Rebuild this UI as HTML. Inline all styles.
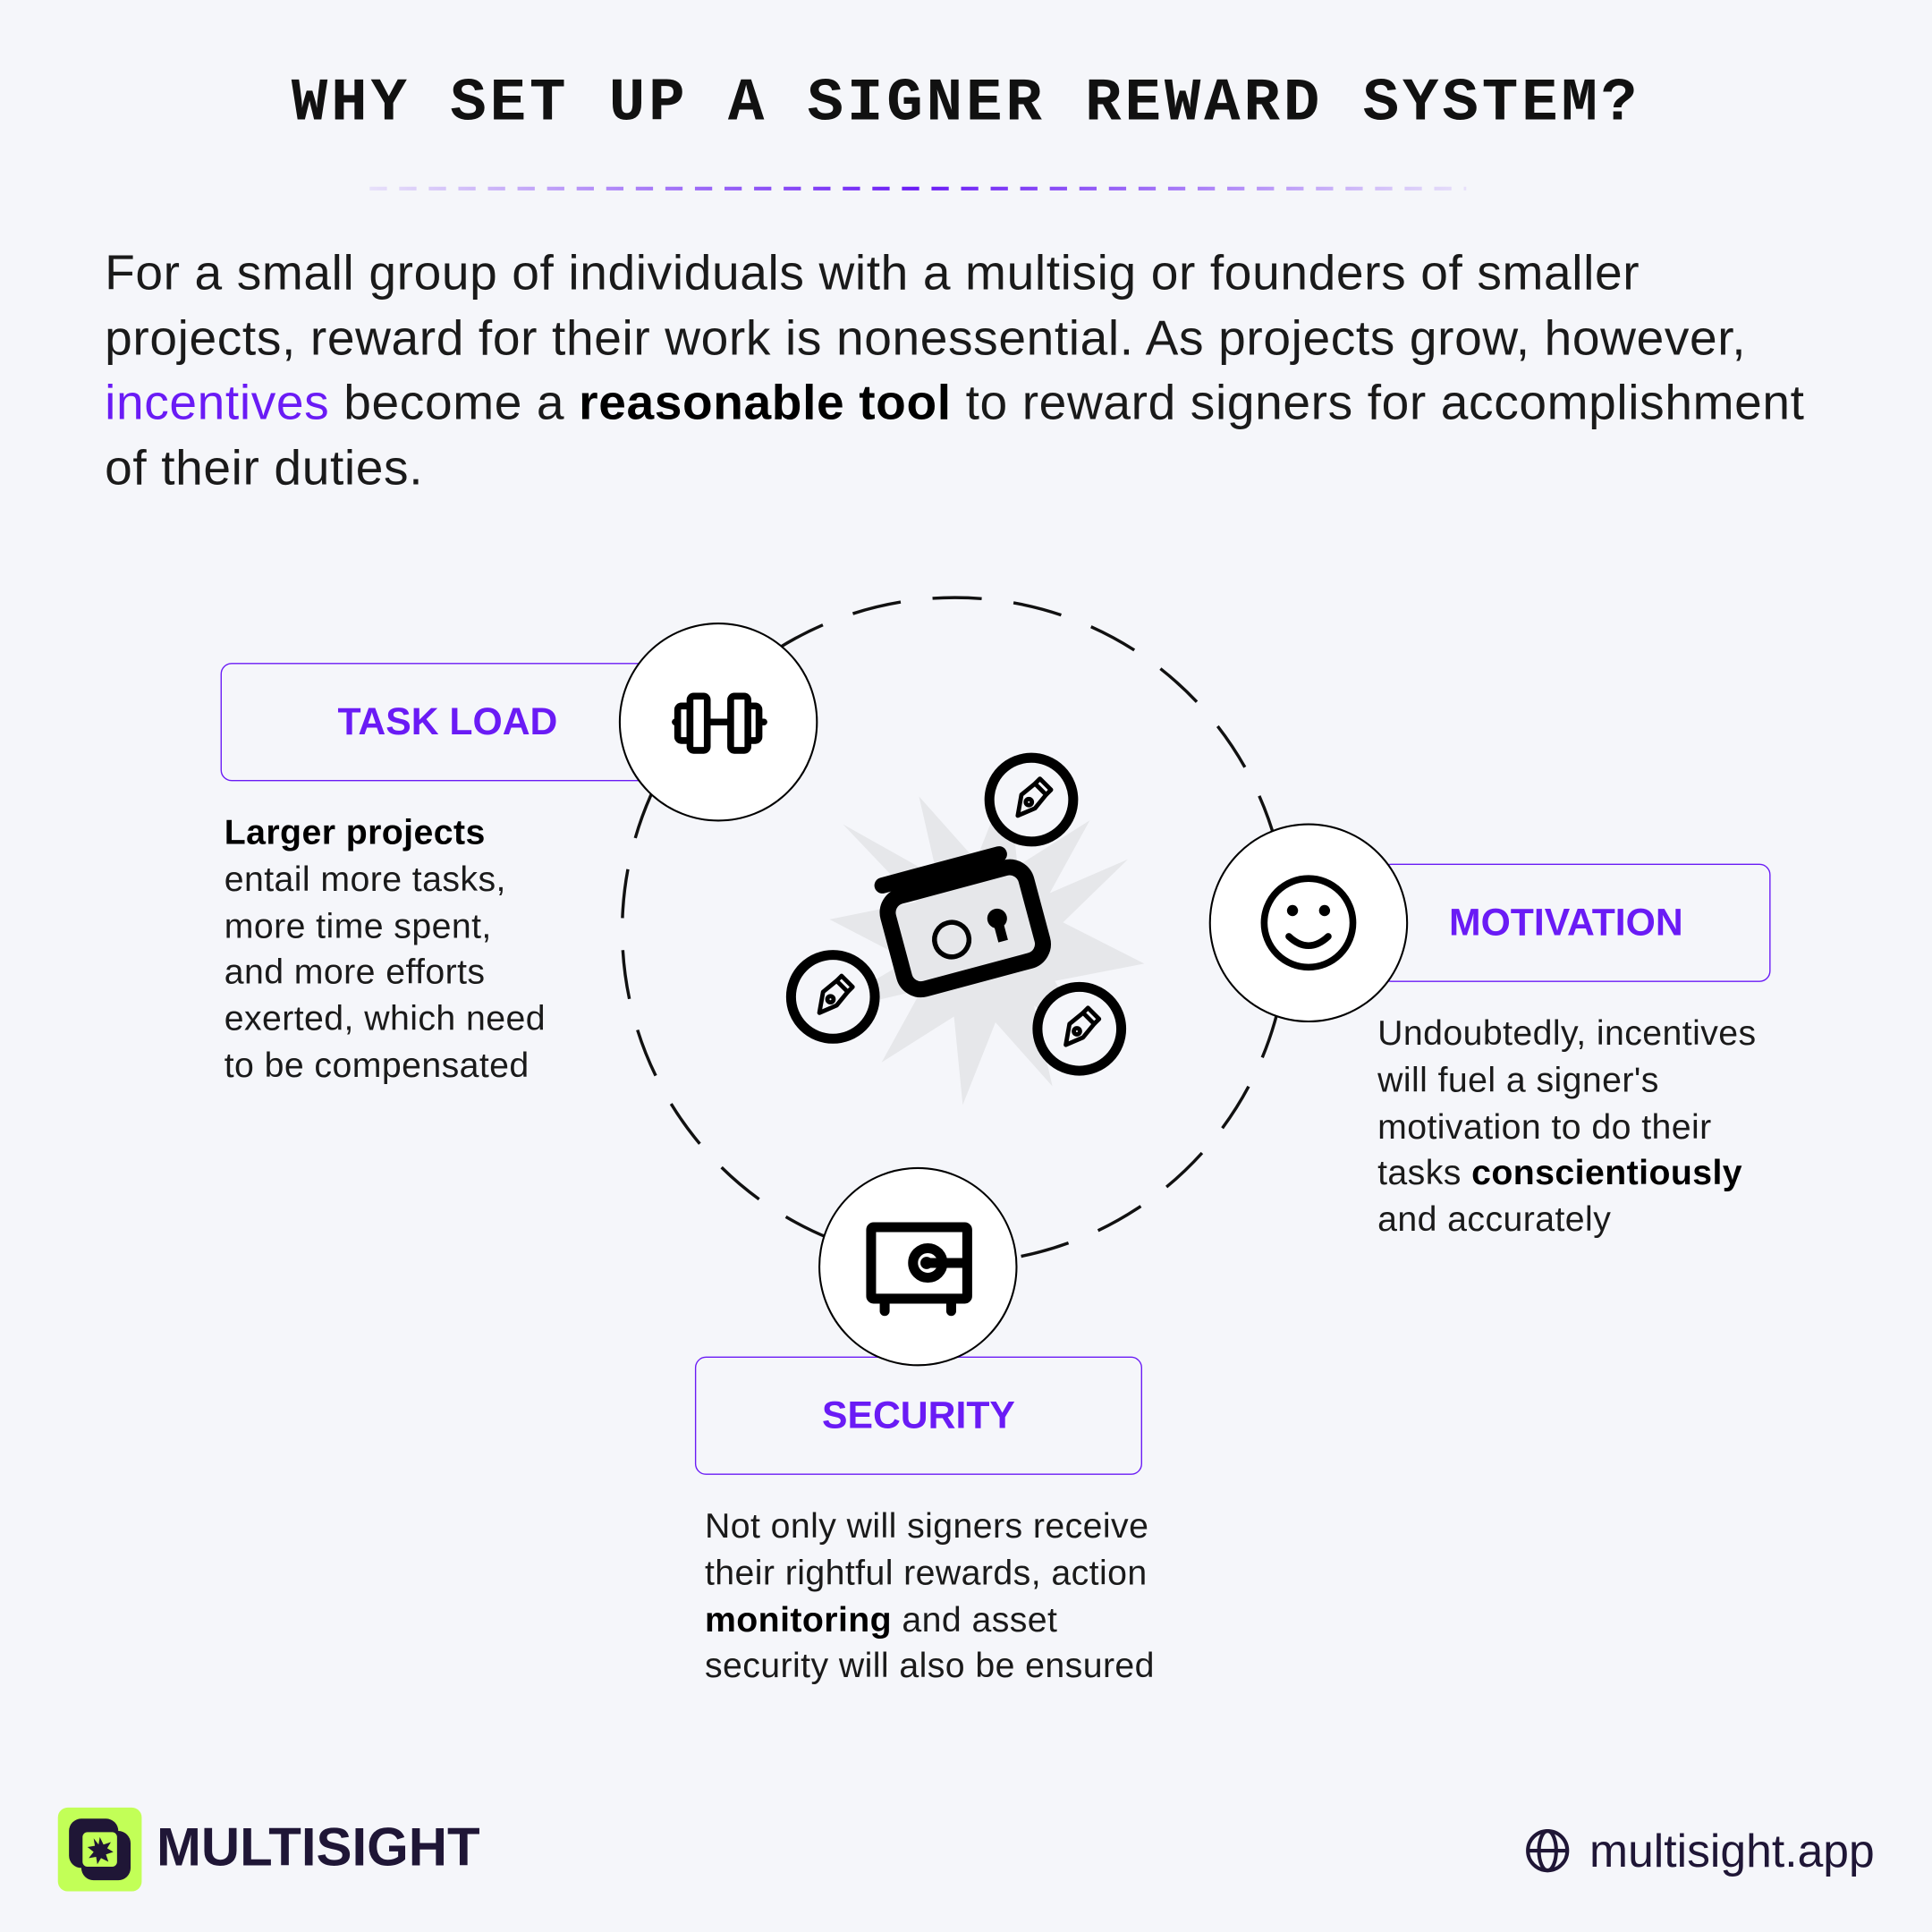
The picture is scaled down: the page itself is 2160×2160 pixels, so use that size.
<!DOCTYPE html>
<html><head><meta charset="utf-8"><style>
html,body{margin:0;padding:0;background:#f5f6fa;}
#w{width:1568px;height:1568px;transform:scale(1.377551);transform-origin:0 0;position:relative;background:#f5f6fa;font-family:"Liberation Sans",sans-serif;color:#111;overflow:hidden}
.t{position:absolute;left:0;width:1568px;top:56px;text-align:center;font-family:"Liberation Mono",monospace;font-weight:bold;font-size:49px;letter-spacing:2.8px;color:#111}
.p{position:absolute;left:85px;top:196px;width:1450px;font-size:40px;letter-spacing:0.45px;line-height:52.5px;color:#1a1a1a;white-space:nowrap}
.box{position:absolute;border:1.5px solid #6a1bf5;border-radius:9px;color:#6a1bf5;font-weight:bold;font-size:31px;display:flex;align-items:center;justify-content:center;box-sizing:border-box}
.tx{position:absolute;font-size:28.5px;letter-spacing:0.3px;line-height:37.8px;color:#1a1a1a}
b{font-weight:bold;color:#000}
</style></head><body><div id="w">
<div class="t">WHY SET UP A SIGNER REWARD SYSTEM?</div>
<svg style="position:absolute;left:0;top:0" width="1568" height="1568">
<defs><linearGradient id="g" gradientUnits="userSpaceOnUse" x1="300" y1="0" x2="1190" y2="0"><stop offset="0" stop-color="#6a1bf5" stop-opacity="0.1"/><stop offset="0.5" stop-color="#6a1bf5"/><stop offset="1" stop-color="#6a1bf5" stop-opacity="0.1"/></linearGradient></defs>
<line x1="300" y1="153" x2="1190" y2="153" stroke="url(#g)" stroke-width="3" stroke-dasharray="14 10"/>
<circle cx="775" cy="755" r="270" fill="none" stroke="#111" stroke-width="2.5" stroke-dasharray="40 26"/>
<polygon fill="#e6e7ea" points="800,630 817,700 870,655 846,718 905,682 860,740 930,764 860,788 905,846 846,810 870,873 817,828 800,898 783,828 730,873 754,810 672,842 740,788 672,764 740,740 672,686 754,718 730,655 783,700" transform="rotate(8 800 764)"/>
<g transform="rotate(-15 781 752)">
<rect x="725" y="715" width="116" height="78" rx="14" fill="none" stroke="#000" stroke-width="13"/>
<line x1="727" y1="703" x2="825" y2="703" stroke="#000" stroke-width="13" stroke-linecap="round"/>
<circle cx="770" cy="760" r="14" fill="none" stroke="#000" stroke-width="4"/>
<circle cx="810" cy="753" r="8" fill="#000"/><rect x="806" y="755" width="8" height="17" fill="#000"/>
</g>
<g fill="none" stroke="#000">
<circle cx="837" cy="649" r="34" stroke-width="8" fill="#f5f6fa"/>
<circle cx="676" cy="809" r="34" stroke-width="8" fill="#f5f6fa"/>
<circle cx="876" cy="835" r="34" stroke-width="8" fill="#f5f6fa"/>
</g>
<g id="pen" fill="none" stroke="#000" stroke-width="3.5" stroke-linejoin="round">
<path d="M826,662 L829,645 L840,636 L849,645 L840,656 Z"/><path d="M840,636 L844,632 L853,641 L849,645"/><circle cx="835" cy="651" r="2.5"/>
</g>
<use href="#pen" x="-161" y="160"/><use href="#pen" x="39" y="186"/>
<g transform="translate(1256,1502)" fill="none" stroke="#1f1636" stroke-width="3"><circle r="16"/><ellipse rx="7" ry="16"/><line x1="-16" x2="16"/></g>
<rect x="47" y="1467" width="68" height="68" rx="8" fill="#c2ff57"/>
<rect x="56" y="1476" width="40" height="40" rx="10" fill="#1f1636"/>
<rect x="66" y="1486" width="40" height="40" rx="10" fill="#1f1636"/>
<rect x="67" y="1487" width="28" height="28" rx="4" fill="#c2ff57"/>
<polygon fill="#1f1636" points="81,1491 84,1497 90,1495 87,1500 92,1503 86,1505 88,1511 82,1508 79,1513 78,1507 72,1508 76,1503 71,1499 77,1498 76,1492 80,1497"/>
</svg>
<div class="p">For a small group of individuals with a multisig or founders of smaller<br>projects, reward for their work is nonessential. As projects grow, however,<br><span style="color:#6a1bf5">incentives</span> become a <b>reasonable tool</b> to reward signers for accomplishment<br>of their duties.</div>
<div class="box" style="left:179px;top:538px;width:352px;height:96px;justify-content:flex-start;padding-left:94px">TASK LOAD</div>
<div class="box" style="left:1120px;top:701px;width:317px;height:96px;justify-content:flex-start;padding-left:55px">MOTIVATION</div>
<div class="box" style="left:564px;top:1101px;width:363px;height:96px">SECURITY</div>
<svg style="position:absolute;left:0;top:0" width="1568" height="1568"><circle cx="583" cy="586" r="80" fill="#fff" stroke="#000" stroke-width="1.5"/><g fill="none" stroke="#000" stroke-width="5.5" stroke-linejoin="round" stroke-linecap="round"><line x1="548" y1="586" x2="620" y2="586"/><rect x="550" y="573" width="10" height="28" rx="3" fill="#fff"/><rect x="560" y="565" width="14" height="44" rx="3" fill="#fff"/><rect x="606" y="573" width="10" height="28" rx="3" fill="#fff"/><rect x="593" y="565" width="14" height="44" rx="3" fill="#fff"/></g>
<circle cx="1062" cy="749" r="80" fill="#fff" stroke="#000" stroke-width="1.5"/><circle cx="1062" cy="749" r="36" fill="none" stroke="#000" stroke-width="5.5"/><path d="M1046,760 Q1062,775 1078,760" fill="none" stroke="#000" stroke-width="5.5" stroke-linecap="round"/><circle cx="1049" cy="739" r="4.5"/><circle cx="1075" cy="739" r="4.5"/>
<circle cx="745" cy="1028" r="80" fill="#fff" stroke="#000" stroke-width="1.5"/><g fill="none" stroke="#000" stroke-width="8" stroke-linecap="round"><rect x="707" y="996" width="78" height="58" rx="2"/><line x1="718" y1="1058" x2="718" y2="1064"/><line x1="772" y1="1058" x2="772" y2="1064"/><circle cx="753" cy="1025" r="12"/><line x1="753" y1="1025" x2="783" y2="1025"/></g><circle cx="752" cy="1025" r="5"/></svg>
<div class="tx" style="left:182px;top:658px"><b>Larger projects</b><br>entail more tasks,<br>more time spent,<br>and more efforts<br>exerted, which need<br>to be compensated</div>
<div class="tx" style="left:1118px;top:821px">Undoubtedly, incentives<br>will fuel a signer's<br>motivation to do their<br>tasks <b>conscientiously</b><br>and accurately</div>
<div class="tx" style="left:572px;top:1221px">Not only will signers receive<br>their rightful rewards, action<br><b>monitoring</b> and asset<br>security will also be ensured</div>
<div style="position:absolute;left:127px;top:1476px;font-size:43.5px;font-weight:bold;color:#1f1636">MULTISIGHT</div>
<div style="position:absolute;left:1290px;top:1481px;font-size:37.5px;color:#1f1636">multisight.app</div>
</div></body></html>
